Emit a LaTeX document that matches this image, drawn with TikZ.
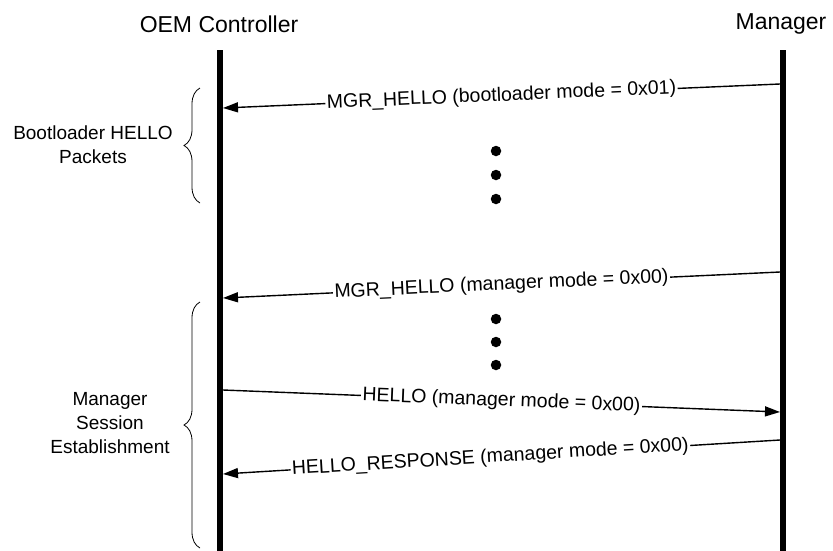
\documentclass[tikz,border=0pt]{standalone}
\usepackage{fontspec}
\setmainfont{Liberation Sans}
\usetikzlibrary{arrows.meta,decorations.pathreplacing}
\begin{document}
\begin{tikzpicture}[x=1pt,y=-1pt,
  lifeline/.style={line width=6pt},
  msg/.style={line width=1.4pt,-{Triangle[length=15pt,width=10pt]}},
  lbl/.style={font=\fontsize{19.5}{23}\selectfont, fill=white, inner sep=1.5pt, sloped},
  title/.style={font=\fontsize{23}{27}\selectfont},
  grp/.style={font=\fontsize{19}{24}\selectfont, align=center},
  dotnode/.style={circle, fill=black, minimum size=10.5pt, inner sep=0pt},
  bracestyle/.style={decorate, decoration={brace, amplitude=16pt}, line width=0.8pt}]
\useasboundingbox (0,0) rectangle (833,550);
% titles
\node[title] (oem) at (219,24) {OEM Controller};
\node[title] (mgr) at (781,24) {Manager};
% lifelines
\coordinate (oemtop) at (220,50);
\coordinate (oembot) at (220,552);
\coordinate (mgrtop) at (783,50);
\coordinate (mgrbot) at (783,552);
\draw[lifeline] (oemtop) -- (oembot);
\draw[lifeline] (mgrtop) -- (mgrbot);
% messages
\coordinate (m1a) at (780,84);  \coordinate (m1b) at (223,108);
\coordinate (m2a) at (780,272); \coordinate (m2b) at (223,298);
\coordinate (m3a) at (223,390); \coordinate (m3b) at (780,412);
\coordinate (m4a) at (780,440); \coordinate (m4b) at (223,474);
\draw[msg] (m1a) -- node[lbl] (l1) {MGR\_HELLO (bootloader mode = 0x01)} (m1b);
\draw[msg] (m2a) -- node[lbl] (l2) {MGR\_HELLO (manager mode = 0x00)} (m2b);
\draw[msg] (m3a) -- node[lbl] (l3) {HELLO (manager mode = 0x00)} (m3b);
\draw[msg] (m4a) -- node[lbl,pos=0.52] (l4) {HELLO\_RESPONSE (manager mode = 0x00)} (m4b);
% dots
\node[dotnode] (d1) at (496,151) {};
\node[dotnode] (d2) at (496,175) {};
\node[dotnode] (d3) at (496,199) {};
\node[dotnode] (d4) at (496,319) {};
\node[dotnode] (d5) at (496,342) {};
\node[dotnode] (d6) at (496,365) {};
% braces
\coordinate (b1a) at (200,203); \coordinate (b1b) at (200,88);
\coordinate (b2a) at (200,548); \coordinate (b2b) at (200,302);
\draw[bracestyle] (b1a) -- (b1b);
\draw[bracestyle] (b2a) -- (b2b);
\node[grp] (g1) at (93,145) {Bootloader HELLO\\Packets};
\node[grp] (g2) at (110,423) {Manager\\Session\\Establishment};
\end{tikzpicture}
\end{document}
